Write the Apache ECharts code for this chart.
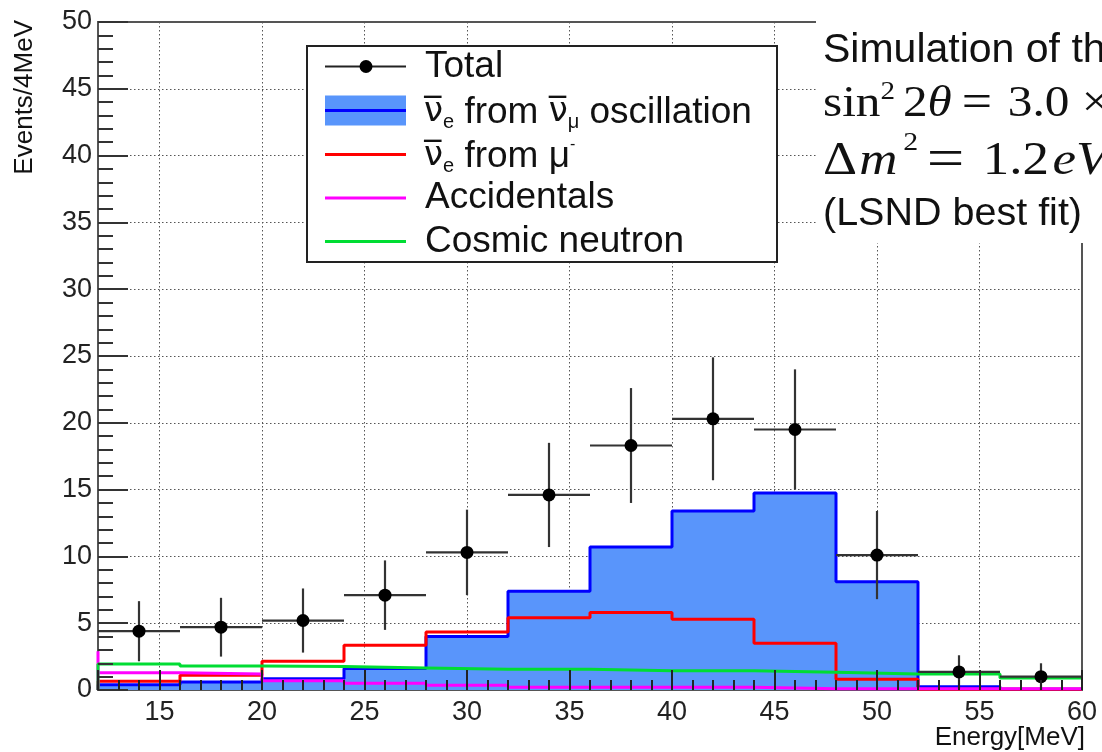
<!DOCTYPE html>
<html><head><meta charset="utf-8">
<script src="https://cdn.jsdelivr.net/npm/echarts@6/dist/echarts.min.js"></script>
<style>html,body{margin:0;padding:0;background:#fff}#c{width:1102px;height:752px}</style>
</head><body><div id="c"></div>
<script>
// ---- data ----
const binEdges = [12, 16, 20, 24, 28, 32, 36, 40, 44, 48, 52, 56, 60];
const oscillation = [0.4, 0.6, 0.85, 1.6, 4.0, 7.4, 10.7, 13.4, 14.75, 8.1, 0.25, 0.05];
const fromMuon = [0.65, 1.1, 2.15, 3.35, 4.35, 5.4, 5.8, 5.3, 3.5, 0.8, 0.05, 0.05];
const accidentals = [1.3, 1.2, 0.7, 0.5, 0.35, 0.2, 0.2, 0.2, 0.1, 0.1, 0.1, 0.1];
const accidentalsLeftEdge = 2.9;
const cosmic = [1.95, 1.8, 1.75, 1.65, 1.55, 1.55, 1.45, 1.45, 1.33, 1.2, 1.2, 0.9];
const totalCounts = [4.4, 4.7, 5.2, 7.1, 10.3, 14.6, 18.3, 20.3, 19.5, 10.1, 1.35, 1.0];
const totalErrors = [2.25, 2.2, 2.4, 2.6, 3.2, 3.9, 4.3, 4.6, 4.5, 3.3, 1.25, 1.0];
const legendLabels = ['Total', 'ν̄e from ν̄μ oscillation', 'ν̄e from μ⁻', 'Accidentals', 'Cosmic neutron'];

// ---- helpers ----
function stepData(values, lead) {
  const d = [[binEdges[0], 0]];
  (lead || []).forEach(v => d.push([binEdges[0], v]));
  values.forEach((v, i) => d.push([binEdges[i], v]));
  d.push([binEdges[binEdges.length - 1], values[values.length - 1]]);
  return d;
}
const totalData = totalCounts.map((v, i) => [
  (binEdges[i] + binEdges[i + 1]) / 2, v, totalErrors[i], binEdges[i], binEdges[i + 1]
]);

const SANS = 'Liberation Sans, Arial, Helvetica, sans-serif';
const SERIF = 'Liberation Serif, Times New Roman, serif';
const NU = 'DejaVu Sans, Liberation Sans, sans-serif';
const BLUE_FILL = '#5995fb';
const INK = '#111';
const gridLine = { show: true, lineStyle: { type: [1.5, 2.5], color: '#555', width: 1 } };

const chart = echarts.init(document.getElementById('c'), null, { renderer: 'canvas' });

function lineSeries(name, values, color, z, extra) {
  return Object.assign({
    name, type: 'line', step: 'end', data: stepData(values),
    xAxisIndex: 0, yAxisIndex: 0, showSymbol: false, symbol: 'none',
    lineStyle: { color, width: 3 }, itemStyle: { color }, z, silent: true
  }, extra || {});
}

const LFS = 37;
const legendRich = {
  n: { fontSize: LFS, fontFamily: SANS, lineHeight: 40, fill: INK },
  v: { fontSize: LFS - 3, fontFamily: NU, lineHeight: 40, fill: INK },
  s: { fontSize: 20, fontFamily: SANS, lineHeight: 20, verticalAlign: 'bottom', fill: INK },
  p: { fontSize: 16, fontFamily: SANS, lineHeight: 14, verticalAlign: 'top', fill: INK }
};
function mt(size, lh, extra) { return Object.assign({ fontSize: size, fontFamily: SERIF, lineHeight: lh, fill: INK }, extra || {}); }

const legendRows = [66.5, 110.5, 154.5, 198, 241.5];
const graphics = [
  // legend box
  { type: 'rect', z: 100, shape: { x: 307, y: 46, width: 470, height: 216 },
    style: { fill: '#fff', stroke: '#222', lineWidth: 2 } },
  { type: 'line', z: 101, shape: { x1: 325, y1: legendRows[0], x2: 406, y2: legendRows[0] },
    style: { stroke: '#222', lineWidth: 2 } },
  { type: 'circle', z: 102, shape: { cx: 366, cy: legendRows[0], r: 6.5 }, style: { fill: '#000' } },
  { type: 'rect', z: 101, shape: { x: 325, y: legendRows[1] - 15, width: 81, height: 30 },
    style: { fill: BLUE_FILL } },
  { type: 'line', z: 102, shape: { x1: 325, y1: legendRows[1], x2: 406, y2: legendRows[1] },
    style: { stroke: '#0000ff', lineWidth: 3 } },
  { type: 'line', z: 101, shape: { x1: 325, y1: legendRows[2], x2: 406, y2: legendRows[2] },
    style: { stroke: '#ff0000', lineWidth: 3 } },
  { type: 'line', z: 101, shape: { x1: 325, y1: legendRows[3], x2: 406, y2: legendRows[3] },
    style: { stroke: '#ff00ff', lineWidth: 3 } },
  { type: 'line', z: 101, shape: { x1: 325, y1: legendRows[4], x2: 406, y2: legendRows[4] },
    style: { stroke: '#00dd33', lineWidth: 3 } },
  { type: 'text', z: 101, x: 425, y: legendRows[0], style: { text: legendLabels[0], font: LFS + 'px ' + SANS, fill: INK, verticalAlign: 'middle' } },
  { type: 'text', z: 101, x: 424, y: legendRows[1] + 2, style: {
      text: '{v|ν\u0305}{s|e}{n| from }{v|ν\u0305}{s|μ}{n| oscillation}', verticalAlign: 'middle', rich: legendRich } },
  { type: 'text', z: 101, x: 424, y: legendRows[2] + 2, style: {
      text: '{v|ν\u0305}{s|e}{n| from μ}{p|-}', verticalAlign: 'middle', rich: legendRich } },
  { type: 'text', z: 101, x: 425, y: legendRows[3], style: { text: legendLabels[3], font: LFS + 'px ' + SANS, fill: INK, verticalAlign: 'middle' } },
  { type: 'text', z: 101, x: 425, y: legendRows[4], style: { text: legendLabels[4], font: LFS + 'px ' + SANS, fill: INK, verticalAlign: 'middle' } },
  // annotation box (covers the frame corner)
  { type: 'rect', z: 100, shape: { x: 816, y: 0, width: 290, height: 243 }, style: { fill: '#fff' } },
  { type: 'text', z: 101, x: 823, y: 51, style: { text: 'Simulation of the', font: '41px ' + SANS, fill: INK, verticalAlign: 'middle' } },
  { type: 'text', z: 101, x: 823, y: 104, scaleX: 1.12, style: {
      text: '{a|sin}{u|2}{b|2}{t|θ}{e|=}{c|3.0}{d| × 10}{u|−3}', verticalAlign: 'middle',
      rich: {
        a: mt(44, 50),
        u: mt(26, 24, { verticalAlign: 'top' }),
        b: mt(44, 50, { padding: [0, 0, 0, 7] }),
        t: mt(44, 50, { fontStyle: 'italic' }),
        e: mt(48, 50, { padding: [0, 0, 0, 9] }),
        c: mt(44, 50, { padding: [0, 0, 0, 14] }),
        d: mt(44, 50)
      } } },
  { type: 'text', z: 101, x: 823, y: 162, scaleX: 1.15, style: {
      text: '{D|Δ}{m|m}{u|2}{e|=}{n|1.2}{ei|e}{V|V}{u2|2}', verticalAlign: 'middle',
      rich: {
        D: mt(46, 64),
        m: mt(46, 64, { fontStyle: 'italic', padding: [0, 0, 0, 2] }),
        u: mt(26, 24, { verticalAlign: 'top', padding: [0, 0, 0, 5] }),
        e: mt(58, 64, { padding: [0, 0, 0, 7.5] }),
        n: mt(46, 64, { padding: [0, 0, 0, 16] }),
        ei: mt(46, 64, { fontStyle: 'italic', padding: [0, 0, 0, 3] }),
        V: mt(46, 64, { fontStyle: 'italic' }),
        u2: mt(26, 24, { verticalAlign: 'top' })
      } } },
  { type: 'text', z: 101, x: 823, y: 214, style: { text: '(LSND best fit)', font: '39.5px ' + SANS, fill: INK, verticalAlign: 'middle' } },
  // axis titles
  { type: 'text', z: 101, x: 25, y: 20, rotation: Math.PI / 2, style: { text: 'Events/4MeV', font: '26px ' + SANS, fill: INK, align: 'right', verticalAlign: 'middle' } },
  { type: 'text', z: 101, x: 1085, y: 738, style: { text: 'Energy[MeV]', font: '26px ' + SANS, fill: INK, align: 'right', verticalAlign: 'middle' } }
];

const tickAxisBase = { type: 'value', axisLine: { show: false }, axisLabel: { show: false }, splitLine: { show: false } };

const option = {
  animation: false,
  backgroundColor: '#fff',
  grid: { left: 98, right: 20, top: 22, bottom: 62, show: true, borderColor: '#555', borderWidth: 2, backgroundColor: 'transparent' },
  xAxis: [
    { type: 'value', min: 12, max: 60, minInterval: 5, maxInterval: 5, position: 'bottom', z: 0,
      axisLine: { show: true, lineStyle: { color: '#555', width: 2 } }, axisTick: { show: false },
      axisLabel: { showMinLabel: false, fontSize: 27, color: '#222', margin: 9, fontFamily: SANS },
      splitLine: gridLine },
    Object.assign({}, tickAxisBase, { min: 12, max: 60, minInterval: 5, maxInterval: 5, position: 'bottom', z: 10,
      axisTick: { show: true, inside: true, length: 20, lineStyle: { color: '#222', width: 2 } } }),
    Object.assign({}, tickAxisBase, { min: 12, max: 60, interval: 1, position: 'bottom', z: 10,
      axisTick: { show: true, inside: true, length: 10, lineStyle: { color: '#222', width: 2 } } })
  ],
  yAxis: [
    { type: 'value', min: 0, max: 50, interval: 5, position: 'left', z: 0,
      axisLine: { show: true, lineStyle: { color: '#555', width: 2 } }, axisTick: { show: false },
      axisLabel: { fontSize: 27, color: '#222', margin: 6, fontFamily: SANS },
      splitLine: gridLine },
    Object.assign({}, tickAxisBase, { min: 0, max: 50, interval: 5, position: 'left', z: 10,
      axisTick: { show: true, inside: true, length: 30, lineStyle: { color: '#333', width: 2 } } }),
    Object.assign({}, tickAxisBase, { min: 0, max: 50, interval: 1, position: 'left', z: 10,
      axisTick: { show: true, inside: true, length: 15, lineStyle: { color: '#333', width: 2 } } })
  ],
  series: [
    lineSeries(legendLabels[1], oscillation, '#0000ff', 2, { areaStyle: { color: BLUE_FILL, opacity: 1 } }),
    lineSeries(legendLabels[2], fromMuon, '#ff0000', 3),
    lineSeries(legendLabels[3], accidentals, '#ff00ff', 4, { data: stepData(accidentals, [accidentalsLeftEdge]) }),
    lineSeries(legendLabels[4], cosmic, '#00dd33', 5),
    {
      name: legendLabels[0] + ' errors', type: 'custom', xAxisIndex: 0, yAxisIndex: 0, z: 6, silent: true,
      data: totalData,
      renderItem(params, api) {
        const x = api.value(0), y = api.value(1), e = api.value(2);
        const l = api.coord([api.value(3), y]), r = api.coord([api.value(4), y]);
        const t = api.coord([x, y + e]), b = api.coord([x, Math.max(0, y - e)]);
        const st = { stroke: '#333', lineWidth: 2.2 };
        return { type: 'group', children: [
          { type: 'line', shape: { x1: l[0], y1: l[1], x2: r[0], y2: r[1] }, style: st },
          { type: 'line', shape: { x1: t[0], y1: t[1], x2: b[0], y2: b[1] }, style: st }
        ] };
      }
    },
    {
      name: legendLabels[0], type: 'scatter', xAxisIndex: 0, yAxisIndex: 0, z: 7, silent: true,
      symbol: 'circle', symbolSize: 13, itemStyle: { color: '#000', opacity: 1 },
      data: totalData.map(d => [d[0], d[1]])
    }
  ],
  graphic: graphics
};
chart.setOption(option);
</script></body></html>
